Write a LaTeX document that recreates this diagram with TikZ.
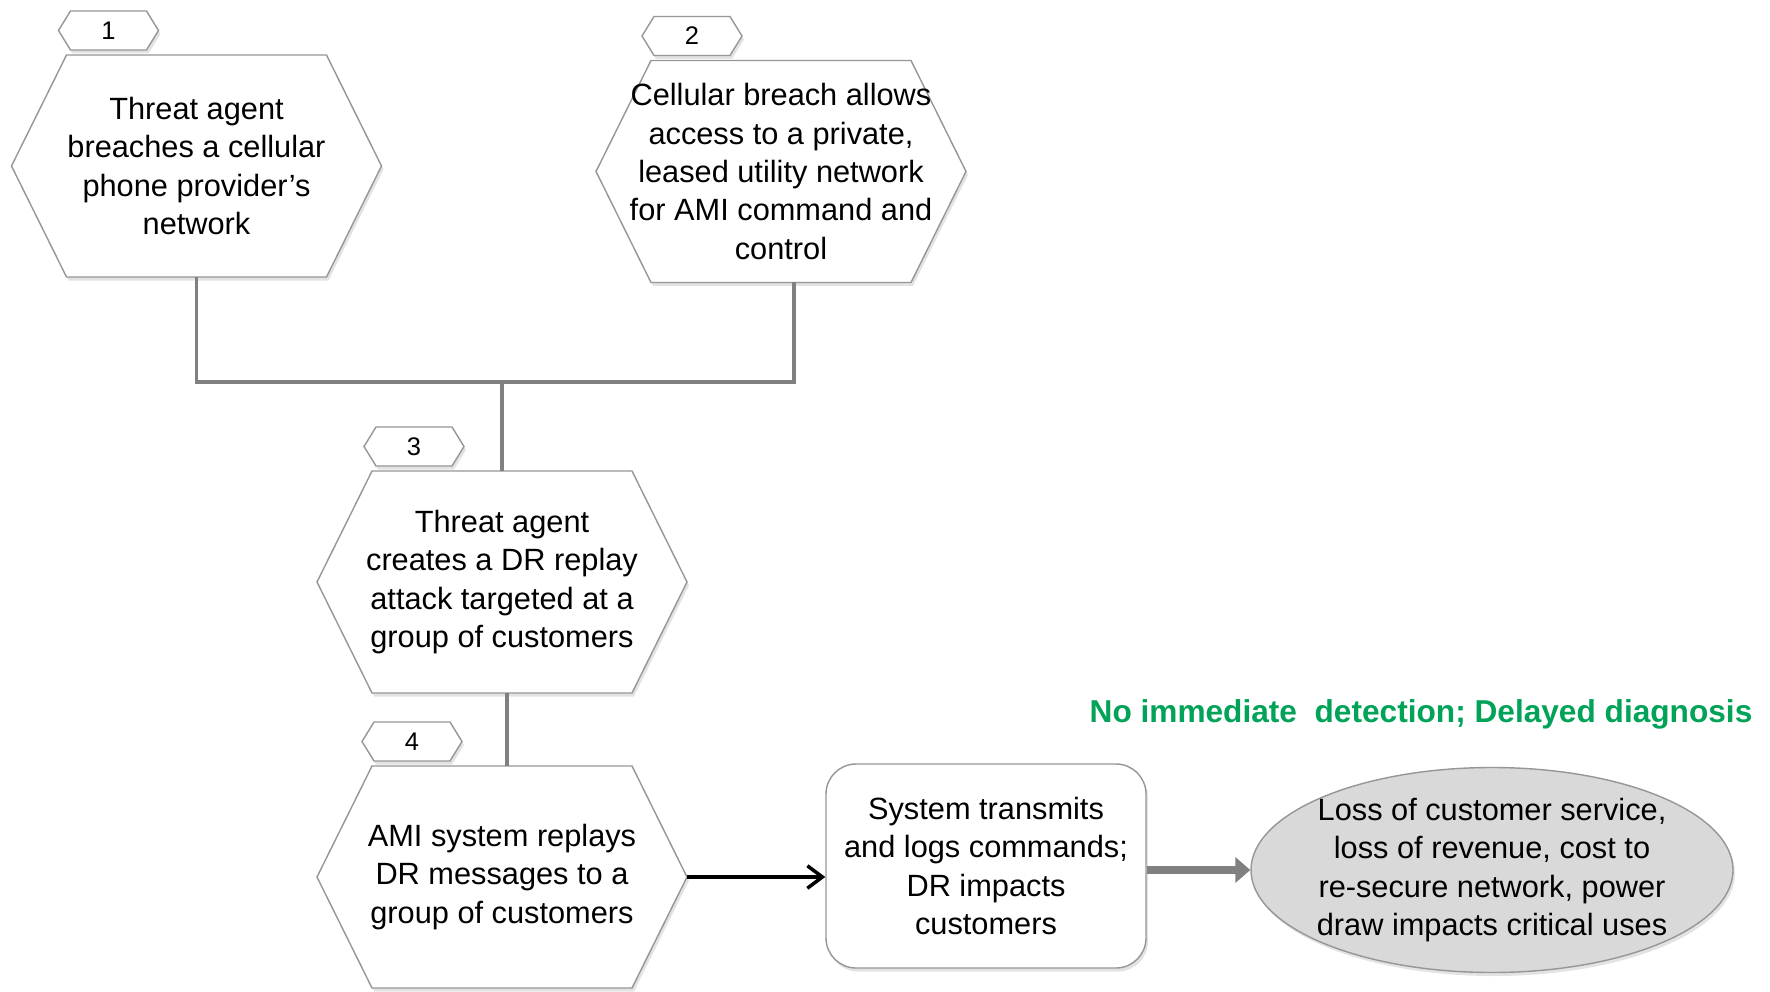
\documentclass[tikz,border=0pt]{standalone}
\usepackage{fontspec}
\setmainfont{Liberation Sans}
\usepackage{tikz}
\usetikzlibrary{shapes, positioning}
\usetikzlibrary{calc}
\usetikzlibrary{arrows.meta}
\usetikzlibrary{shadows}
\usetikzlibrary{backgrounds}
\definecolor{linegray}{RGB}{128,128,128}
\definecolor{edgegray}{RGB}{150,150,150}
\definecolor{ovalgray}{RGB}{217,217,217}
\definecolor{notegreen}{RGB}{0,163,88}

\begin{document}
\begin{tikzpicture}
			\tikzset{
				mytext/.style={font=\fontsize{17.5}{21.8}\selectfont, align=center},
				myhex/.style={mytext, minimum width=7.4cm, minimum height=4.44cm, inner sep=0pt, outer sep=0pt},
				mytag/.style={font=\fontsize{14.5}{16}\selectfont, minimum width=2cm, minimum height=0.78cm, inner sep=0pt, outer sep=0pt},
				myshadow/.style={drop shadow={opacity=0.22, shadow xshift=0.04cm, shadow yshift=-0.07cm}},
				myoutline/.style={draw=edgegray, line width=0.8pt, fill=white, myshadow},
				mylink/.style={draw=linegray, line width=2pt}
			}
			\useasboundingbox (0,0) rectangle (35.4,-19.84);
			% hexagon steps
			\node[myhex] (hexa) at (3.93,-3.32) {Threat agent\\breaches a cellular\\phone provider's\\network};
			\node[myhex] (hexb) at (15.62,-3.43) {Cellular breach allows\\access to a private,\\leased utility network\\for AMI command and\\control};
			\node[myhex] (hexc) at (10.04,-11.64) {Threat agent\\creates a DR replay\\attack targeted at a\\group of customers};
			\node[myhex] (hexd) at (10.04,-17.54) {AMI system replays\\DR messages to a\\group of customers};
			\node[mytag, above=0.1cm of hexa.north, xshift=-1.76cm] (taga) {1};
			\node[mytag, above=0.1cm of hexb.north, xshift=-1.78cm] (tagb) {2};
			\node[mytag, above=0.1cm of hexc.north, xshift=-1.76cm] (tagc) {3};
			\node[mytag, above=0.1cm of hexd.north, xshift=-1.8cm] (tagd) {4};
			\begin{pgfonlayer}{background}
				\foreach \h in {hexa,hexb,hexc,hexd}
					\draw[myoutline] ([xshift=1.1cm]\h.north west) -- ([xshift=-1.1cm]\h.north east) -- (\h.east) -- ([xshift=-1.1cm]\h.south east) -- ([xshift=1.1cm]\h.south west) -- (\h.west) -- cycle;
				\foreach \t in {taga,tagb,tagc,tagd}
					\draw[myoutline] ([xshift=0.24cm]\t.north west) -- ([xshift=-0.24cm]\t.north east) -- (\t.east) -- ([xshift=-0.24cm]\t.south east) -- ([xshift=0.24cm]\t.south west) -- (\t.west) -- cycle;
			\end{pgfonlayer}
			% outcome
			\node[mytext, draw=edgegray, line width=0.8pt, fill=white, myshadow, rounded corners=0.6cm, minimum width=6.4cm, minimum height=4.08cm] (sysbox) at (19.72,-17.32) {System transmits\\and logs commands;\\DR impacts\\customers};
			\node[mytext, ellipse, draw=edgegray, line width=0.8pt, fill=ovalgray, myshadow, inner sep=-0.12cm, minimum width=9.64cm, minimum height=4.1cm] (oval) at (29.84,-17.4) {Loss of customer service,\\loss of revenue, cost to\\re-secure network, power\\draw impacts critical uses};
			\node[font=\fontsize{18}{20}\selectfont\bfseries, text=notegreen] (note) at (28.42,-14.29) {No immediate\ \ detection; Delayed diagnosis};
			% connectors
			\coordinate (join) at ($(hexc.north)+(0,1.78)$);
			\draw[mylink] (hexa.south) |- (join) -| ([xshift=0.26cm]hexb.south);
			\draw[mylink] (join) -- (hexc.north);
			\draw[mylink] ([xshift=0.1cm]hexc.south) -- ([xshift=0.1cm]hexd.north);
			\draw[line width=2pt, -{Straight Barb[length=0.3cm, width=0.45cm]}] (hexd.east) -- (hexd.east -| sysbox.west);
			\draw[draw=linegray, line width=4pt, -{Triangle[length=0.3cm, width=0.5cm]}] (oval.west -| sysbox.east) -- (oval.west);
		\end{tikzpicture}
\end{document}
